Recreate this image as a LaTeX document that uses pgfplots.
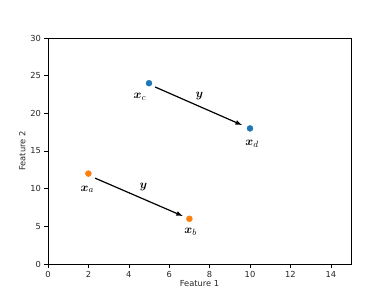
\documentclass[border=0pt]{standalone}
\usepackage{amsmath}
\usepackage{bm}
\usepackage{pgfplots}
\pgfplotsset{compat=1.18}
\usepackage{fontspec}
\setmainfont{DejaVu Sans}
\definecolor{mblue}{HTML}{1F77B4}
\definecolor{morange}{HTML}{FF7F0E}
\begin{document}
\begin{tikzpicture}
\path (-48pt,-33pt) rectangle (342pt,264pt);
\begin{axis}[
  at={(0,0)}, anchor=south west,
  scale only axis, width=303pt, height=226pt,
  xmin=0, xmax=15, ymin=0, ymax=30,
  xtick={0,2,...,14}, ytick={0,5,...,30},
  tick align=outside, major tick length=3.5pt,
  xtick pos=bottom, ytick pos=left,
  tick style={black, line width=0.6pt},
  axis line style={line width=0.7pt},
  ticklabel style={font=\fontsize{8.3}{9}\selectfont, text=black!85},
  /pgf/number format/assume math mode=true,
  xlabel={Feature 1}, ylabel={Feature 2},
  label style={font=\fontsize{8.3}{9}\selectfont, text=black!85},
  xlabel style={yshift=4pt},
  ylabel style={yshift=-2pt},
  clip=false,
]
\addplot[only marks, mark=*, mark size=3pt, color=mblue] coordinates {(5,24) (10,18)};
\addplot[only marks, mark=*, mark size=3pt, color=morange] coordinates {(2,12) (7,6)};
\addplot[-latex, line width=1.2pt, black] coordinates {(5.3,23.5) (9.6,18.45)};
\addplot[-latex, line width=1.2pt, black] coordinates {(2.33,11.4) (6.67,6.37)};
\node[font=\fontsize{13}{14}\selectfont] at (axis cs:4.55,22.2) {$\bm{x}_c$};
\node[font=\fontsize{13}{14}\selectfont] at (axis cs:10.1,16.0) {$\bm{x}_d$};
\node[font=\fontsize{13}{14}\selectfont] at (axis cs:1.95,9.9) {$\bm{x}_a$};
\node[font=\fontsize{13}{14}\selectfont] at (axis cs:7.06,4.3) {$\bm{x}_b$};
\node[font=\fontsize{13}{14}\selectfont] at (axis cs:7.5,22.3) {$\bm{y}$};
\node[font=\fontsize{13}{14}\selectfont] at (axis cs:4.72,10.2) {$\bm{y}$};
\end{axis}
\end{tikzpicture}
\end{document}
